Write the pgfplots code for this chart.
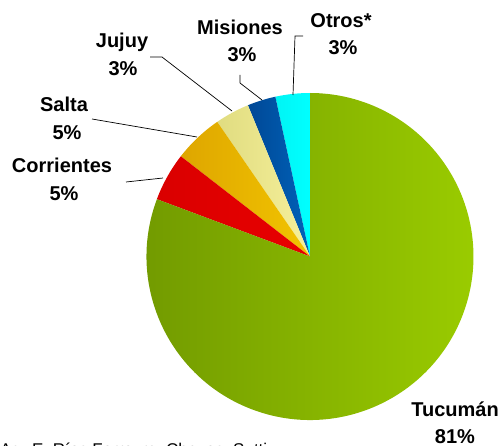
\documentclass[border=0pt]{standalone}
\usepackage{pgfplots}
\pgfplotsset{compat=1.18}
\usepackage{pgfplotstable}
\usepackage{fontspec}
\setmainfont{Liberation Sans}
\pgfplotstableread{
name value
Otros 3.4
Misiones 2.8
Jujuy 3.4
Salta 4.9
Corrientes 4.8
Tucuman 80.7
}\piedata
\gdef\cum{0}%
\pgfplotstableforeachcolumnelement{value}\of\piedata\as\v{%
  \pgfmathsetmacro\sa{90+3.6*\cum}%
  \pgfmathsetmacro\newcum{\cum+\v}%
  \pgfmathsetmacro\ea{90+3.6*\newcum}%
  \expandafter\xdef\csname as\pgfplotstablerow\endcsname{\sa}%
  \expandafter\xdef\csname ae\pgfplotstablerow\endcsname{\ea}%
  \xdef\cum{\newcum}%
}%
\definecolor{cl0}{RGB}{0,245,245}\definecolor{cr0}{RGB}{0,255,255}
\definecolor{cl1}{RGB}{0,72,150}\definecolor{cr1}{RGB}{0,98,185}
\definecolor{cl2}{RGB}{224,220,128}\definecolor{cr2}{RGB}{246,240,155}
\definecolor{cl3}{RGB}{222,166,0}\definecolor{cr3}{RGB}{242,196,0}
\definecolor{cl4}{RGB}{218,0,0}\definecolor{cr4}{RGB}{232,0,0}
\definecolor{cl5}{RGB}{112,152,0}\definecolor{cr5}{RGB}{155,205,0}
\begin{document}
\begin{tikzpicture}
\begin{axis}[
  hide axis, x=1pt, y=1pt, y dir=reverse,
  xmin=0, xmax=503, ymin=0, ymax=446,
  clip=false,
]
\pgfplotsinvokeforeach{0,...,5}{%
  \shade[left color=cl#1, right color=cr#1]
    (axis cs:310,256.5) -- ++(\csname as#1\endcsname:163.5pt)
    arc[start angle=\csname as#1\endcsname, end angle=\csname ae#1\endcsname, radius=163.5pt] -- cycle;
}
\draw[black, line width=0.7pt] (axis cs:126,182) -- (axis cs:163,178);
\draw[black, line width=0.7pt] (axis cs:92,119) -- (axis cs:197,137);
\draw[black, line width=0.7pt] (axis cs:150,57) -- (axis cs:162,57) -- (axis cs:232,111);
\draw[black, line width=0.7pt] (axis cs:240,75) -- (axis cs:240,83) -- (axis cs:262,100);
\draw[black, line width=0.7pt] (axis cs:303,36) -- (axis cs:295,36) -- (axis cs:293,95);
\tikzset{lab/.style={anchor=base, inner sep=0pt, font=\bfseries\fontsize{20}{24}\selectfont}}
\node[lab] at (axis cs:341,28) {Otros*};
\node[lab] at (axis cs:343,55) {3\%};
\node[lab] at (axis cs:240,35) {Misiones};
\node[lab] at (axis cs:242,62) {3\%};
\node[lab] at (axis cs:122,48) {Jujuy};
\node[lab] at (axis cs:123,76) {3\%};
\node[lab] at (axis cs:64,112) {Salta};
\node[lab] at (axis cs:67,140) {5\%};
\node[lab] at (axis cs:62,173) {Corrientes};
\node[lab] at (axis cs:64,201) {5\%};
\node[lab] at (axis cs:455,416) {Tucumán};
\node[lab] at (axis cs:455,443) {81\%};
\node[anchor=base west, inner sep=0pt, font=\fontsize{17}{20}\selectfont] at (axis cs:0,455) {Ag. E. Ríos Ferreyra, Chaves, Sutti};
\end{axis}
\pgfresetboundingbox
\useasboundingbox (0,0) rectangle (503pt,446pt);
\end{tikzpicture}
\end{document}
